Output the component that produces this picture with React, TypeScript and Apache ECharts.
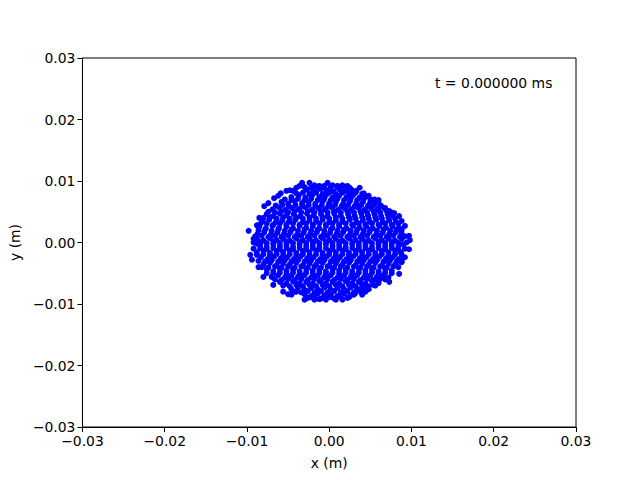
import React, { useEffect, useRef } from "react";
import * as echarts from "echarts";

// Particle positions in units of 1e-4 m.
const edgePoints: number[][] = [
  [-98, 19], [-92, 6], [-88, 28], [-85, 40], [-79, 59], [-74, 64], [-67, 72], [-62, 76], [-59, 80],
  [-52, 84], [-48, 85], [-44, 84], [-40, 89], [-36, 92],
  [-33, 97], [-24, 97], [-18, 93], [-12, 92], [-6, 92], [-2, 97], [4, 93], [10, 92], [16, 93],
  [22, 92], [28, 85], [33, 84],
  [37, 89], [42, 80], [48, 76], [52, 69], [60, 69], [62, 61], [68, 56], [73, 51], [79, 48],
  [85, 43], [88, 35], [92, 27], [97, 11], [98, 4],
  [-88, -2], [-96, -20], [-94, -28], [-86, -40], [-80, -56], [-68, -69], [-56, -80], [-50, -84],
  [-46, -85], [-40, -80],
  [-30, -93], [-22, -89], [-18, -93], [-12, -92], [-4, -93], [2, -89], [8, -93], [16, -93],
  [24, -89], [30, -85],
  [97, -11], [92, -24], [88, -32], [85, -51], [73, -64], [60, -61], [54, -69], [40, -85], [36, -76],
];

const corePoints: number[][] = [
  [-27, 86], [-19, 84], [-11, 87], [-3, 85], [5, 83], [13, 86], [21, 84], [28, 82],
  [-46, 74], [-37, 77], [-29, 73], [-21, 76], [-12, 74], [-4, 77], [4, 73], [12, 76], [21, 74], [29, 77], [37, 73], [45, 75],
  [-58, 66], [-50, 63], [-42, 67], [-33, 64], [-25, 66], [-17, 63], [-8, 67], [0, 64], [8, 66], [17, 63], [25, 67], [33, 64], [41, 66], [49, 63], [57, 66],
  [-69, 54], [-61, 57], [-53, 53], [-45, 56], [-37, 54], [-29, 57], [-21, 53], [-13, 56], [-5, 54], [3, 57], [11, 53], [19, 56], [27, 54], [35, 57], [43, 53], [51, 56], [59, 54], [67, 56],
  [-76, 46], [-68, 43], [-60, 47], [-52, 44], [-43, 46], [-35, 43], [-27, 47], [-19, 44], [-10, 46], [-2, 43], [6, 47], [14, 44], [23, 46], [31, 43], [39, 47], [47, 44], [55, 46], [63, 43], [71, 46], [77, 44],
  [-81, 34], [-73, 37], [-65, 33], [-57, 36], [-49, 34], [-41, 37], [-32, 33], [-24, 36], [-16, 34], [-8, 37], [0, 33], [8, 36], [16, 34], [25, 37], [33, 33], [41, 36], [49, 34], [57, 37], [65, 33], [73, 36], [81, 34],
  [-85, 26], [-77, 23], [-69, 27], [-61, 24], [-52, 26], [-44, 23], [-36, 27], [-28, 24], [-20, 26], [-12, 23], [-4, 27], [4, 24], [12, 26], [21, 23], [29, 27], [37, 24], [45, 26], [53, 23], [61, 27], [69, 24], [77, 26], [85, 24],
  [-87, 14], [-79, 17], [-71, 13], [-63, 16], [-55, 14], [-47, 17], [-39, 13], [-31, 16], [-23, 14], [-15, 17], [-7, 13], [1, 16], [9, 14], [17, 17], [25, 13], [33, 16], [41, 14], [49, 17], [57, 13], [65, 16], [73, 14], [81, 17], [88, 14],
  [-88, 6], [-80, 3], [-72, 7], [-64, 4], [-56, 6], [-48, 3], [-40, 7], [-32, 4], [-24, 6], [-16, 3], [-8, 7], [0, 4], [8, 6], [16, 3], [24, 7], [32, 4], [40, 6], [48, 3], [56, 7], [64, 4], [72, 6], [80, 3], [88, 6],
  [-84, -4], [-76, -7], [-68, -3], [-60, -6], [-52, -4], [-44, -7], [-36, -3], [-28, -6], [-20, -4], [-12, -7], [-4, -3], [4, -6], [12, -4], [20, -7], [28, -3], [36, -6], [44, -4], [52, -7], [60, -3], [68, -6], [76, -4], [84, -7], [90, -3],
  [-88, -16], [-80, -13], [-72, -17], [-64, -14], [-56, -16], [-48, -13], [-40, -17], [-32, -14], [-24, -16], [-16, -13], [-8, -17], [0, -14], [8, -16], [16, -13], [24, -17], [32, -14], [40, -16], [48, -13], [56, -17], [64, -14], [72, -16], [80, -13], [87, -16],
  [-83, -24], [-75, -27], [-67, -23], [-59, -26], [-51, -24], [-43, -27], [-35, -23], [-27, -26], [-19, -24], [-11, -27], [-3, -23], [5, -26], [13, -24], [21, -27], [29, -23], [37, -26], [45, -24], [53, -27], [61, -23], [69, -26], [77, -24], [84, -27],
  [-80, -36], [-72, -33], [-64, -37], [-56, -34], [-48, -36], [-40, -33], [-32, -37], [-24, -34], [-16, -36], [-8, -33], [0, -37], [8, -34], [16, -36], [24, -33], [32, -37], [40, -34], [48, -36], [56, -33], [64, -37], [72, -34], [80, -36],
  [-76, -44], [-68, -47], [-60, -43], [-52, -46], [-44, -44], [-36, -47], [-28, -43], [-20, -46], [-12, -44], [-4, -47], [4, -43], [12, -46], [20, -44], [28, -47], [36, -43], [44, -46], [52, -44], [60, -47], [68, -43], [76, -46],
  [-70, -56], [-62, -53], [-54, -57], [-46, -54], [-38, -56], [-30, -53], [-22, -57], [-14, -54], [-6, -56], [2, -53], [10, -57], [18, -54], [26, -56], [34, -53], [42, -57], [50, -54], [58, -56], [66, -53], [72, -57],
  [-60, -64], [-52, -67], [-44, -63], [-36, -66], [-28, -64], [-20, -67], [-12, -63], [-4, -66], [4, -64], [12, -67], [20, -63], [28, -66], [36, -64], [44, -67], [52, -63], [60, -66],
  [-46, -76], [-38, -73], [-30, -77], [-22, -74], [-14, -76], [-6, -73], [2, -77], [10, -74], [18, -76], [26, -73], [34, -77], [42, -74], [48, -76],
  [-30, -84], [-22, -87], [-14, -83], [-6, -86], [2, -84], [10, -87], [18, -83], [26, -86], [32, -82],
];

const fillPoints: number[][] = [
  [-30, 90], [-22, 89], [-14, 90], [-6, 89], [2, 90], [10, 89], [18, 90], [25, 89],
  [-40, 80], [-32, 81], [-24, 79], [-16, 81], [-8, 79], [0, 81], [8, 79], [16, 81], [24, 79], [32, 81], [40, 79],
  [-54, 70], [-46, 69], [-38, 71], [-30, 69], [-22, 71], [-14, 69], [-6, 71], [2, 69], [10, 71], [18, 69], [26, 71], [34, 69], [42, 71], [50, 69], [55, 70],
  [-65, 60], [-57, 61], [-49, 59], [-41, 61], [-33, 59], [-25, 61], [-17, 59], [-9, 61], [-1, 59], [7, 61], [15, 59], [23, 61], [31, 59], [39, 61], [47, 59], [55, 61], [63, 59],
  [-74, 50], [-66, 49], [-58, 51], [-50, 49], [-42, 51], [-34, 49], [-26, 51], [-18, 49], [-10, 51], [-2, 49], [6, 51], [14, 49], [22, 51], [30, 49], [38, 51], [46, 49], [54, 51], [62, 49], [70, 51], [75, 49],
  [-80, 40], [-72, 41], [-64, 39], [-56, 41], [-48, 39], [-40, 41], [-32, 39], [-24, 41], [-16, 39], [-8, 41], [0, 39], [8, 41], [16, 39], [24, 41], [32, 39], [40, 41], [48, 39], [56, 41], [64, 39], [72, 41], [80, 39],
  [-84, 30], [-76, 31], [-68, 29], [-60, 31], [-52, 29], [-44, 31], [-36, 29], [-28, 31], [-20, 29], [-12, 31], [-4, 29], [4, 31], [12, 29], [20, 31], [28, 29], [36, 31], [44, 29], [52, 31], [60, 29], [68, 31], [76, 29], [84, 31],
  [-86, 20], [-78, 21], [-70, 19], [-62, 21], [-54, 19], [-46, 21], [-38, 19], [-30, 21], [-22, 19], [-14, 21], [-6, 19], [2, 21], [10, 19], [18, 21], [26, 19], [34, 21], [42, 19], [50, 21], [58, 19], [66, 21], [74, 19], [82, 21], [88, 20],
  [-90, 10], [-82, 11], [-74, 9], [-66, 11], [-58, 9], [-50, 11], [-42, 9], [-34, 11], [-26, 9], [-18, 11], [-10, 9], [-2, 11], [6, 9], [14, 11], [22, 9], [30, 11], [38, 9], [46, 11], [54, 9], [62, 11], [70, 9], [78, 11], [86, 9], [92, 10],
  [-92, 0], [-84, 1], [-76, -1], [-68, 1], [-60, -1], [-52, 1], [-44, -1], [-36, 1], [-28, -1], [-20, 1], [-12, -1], [-4, 1], [4, -1], [12, 1], [20, -1], [28, 1], [36, -1], [44, 1], [52, -1], [60, 1], [68, -1], [76, 1], [84, -1], [94, 0],
  [-92, -10], [-84, -9], [-76, -11], [-68, -9], [-60, -11], [-52, -9], [-44, -11], [-36, -9], [-28, -11], [-20, -9], [-12, -11], [-4, -9], [4, -11], [12, -9], [20, -11], [28, -9], [36, -11], [44, -9], [52, -11], [60, -9], [68, -11], [76, -9], [84, -11], [92, -10],
  [-88, -20], [-80, -19], [-72, -21], [-64, -19], [-56, -21], [-48, -19], [-40, -21], [-32, -19], [-24, -21], [-16, -19], [-8, -21], [0, -19], [8, -21], [16, -19], [24, -21], [32, -19], [40, -21], [48, -19], [56, -21], [64, -19], [72, -21], [80, -19], [88, -20],
  [-86, -30], [-78, -31], [-70, -29], [-62, -31], [-54, -29], [-46, -31], [-38, -29], [-30, -31], [-22, -29], [-14, -31], [-6, -29], [2, -31], [10, -29], [18, -31], [26, -29], [34, -31], [42, -29], [50, -31], [58, -29], [66, -31], [74, -29], [82, -31], [88, -30],
  [-82, -40], [-74, -41], [-66, -39], [-58, -41], [-50, -39], [-42, -41], [-34, -39], [-26, -41], [-18, -39], [-10, -41], [-2, -39], [6, -41], [14, -39], [22, -41], [30, -39], [38, -41], [46, -39], [54, -41], [62, -39], [70, -41], [78, -39], [84, -40],
  [-76, -50], [-68, -51], [-60, -49], [-52, -51], [-44, -49], [-36, -51], [-28, -49], [-20, -51], [-12, -49], [-4, -51], [4, -49], [12, -51], [20, -49], [28, -51], [36, -49], [44, -51], [52, -49], [60, -51], [68, -49], [76, -50],
  [-66, -60], [-58, -61], [-50, -59], [-42, -61], [-34, -59], [-26, -61], [-18, -59], [-10, -61], [-2, -59], [6, -61], [14, -59], [22, -61], [30, -59], [38, -61], [46, -59], [54, -61], [62, -59], [68, -60],
  [-56, -70], [-48, -71], [-40, -69], [-32, -71], [-24, -69], [-16, -71], [-8, -69], [0, -71], [8, -69], [16, -71], [24, -69], [32, -71], [40, -69], [48, -71], [56, -70],
  [-42, -80], [-34, -81], [-26, -79], [-18, -81], [-10, -79], [-2, -81], [6, -79], [14, -81], [22, -79], [30, -81], [38, -79], [44, -80],
  [-26, -90], [-18, -89], [-10, -91], [-2, -89], [6, -91], [14, -89], [22, -90],
];

const UNIT = 1e-4;
const axisMin = -0.03;
const axisMax = 0.03;
const axisStep = 0.01;
const timeLabel = "t = 0.000000 ms";

const fmt = (v: number) => {
  const s = (Math.abs(v) < 1e-9 ? 0 : v).toFixed(2);
  return s.replace("-", "\u2212");
};

export default function App() {
  const ref = useRef<HTMLDivElement>(null);
  useEffect(() => {
    if (!ref.current) return;
    const chart = echarts.init(ref.current, null, { renderer: "svg" });
    const data = [...corePoints, ...fillPoints, ...edgePoints].map(([x, y]) => [x * UNIT, y * UNIT]);
    const font = "DejaVu Sans";
    const fs = 13.9;
    const axisCommon = {
      type: "value" as const,
      min: axisMin,
      max: axisMax,
      interval: axisStep,
      splitLine: { show: false },
      axisLine: { show: true, onZero: false, lineStyle: { color: "#000", width: 1 } },
      axisTick: { show: true, length: 5, lineStyle: { color: "#000" } },
      axisLabel: { color: "#000", fontFamily: font, fontSize: fs, formatter: fmt, margin: 7 },
      nameTextStyle: { color: "#000", fontFamily: font, fontSize: fs },
      nameLocation: "middle" as const,
    };
    chart.setOption({
      animation: false,
      backgroundColor: "#fff",
      grid: {
        left: 80, top: 58, width: 496, height: 369,
        show: true, borderColor: "#000", borderWidth: 1, backgroundColor: "transparent",
      },
      xAxis: { ...axisCommon, name: "x (m)", nameGap: 29 },
      yAxis: { ...axisCommon, name: "y (m)", nameGap: 57 },
      graphic: [
        {
          type: "text", left: 435, top: 76,
          style: { text: timeLabel, fill: "#000", font: `${fs}px "${font}"` },
        },
      ],
      series: [
        {
          type: "scatter",
          data,
          symbol: "circle",
          symbolSize: 6,
          itemStyle: { color: "#0000ff", opacity: 1 },
          emphasis: { disabled: true },
        },
      ],
    });
    return () => chart.dispose();
  }, []);
  return (
    <div
      ref={ref}
      style={{ position: "absolute", left: 0, top: 0, width: 640, height: 480 }}
    />
  );
}
